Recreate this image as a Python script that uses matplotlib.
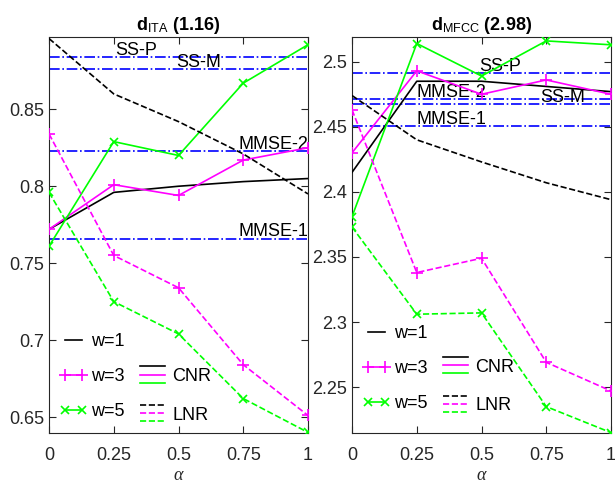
import matplotlib
matplotlib.use("Agg")
import matplotlib.pyplot as plt
from matplotlib.lines import Line2D
from matplotlib.legend_handler import HandlerBase

plt.rcParams['font.family'] = ['Liberation Sans', 'DejaVu Sans']
plt.rcParams['mathtext.fontset'] = 'custom'
plt.rcParams['mathtext.rm'] = 'Liberation Sans'
plt.rcParams['mathtext.it'] = 'Liberation Serif:italic'
plt.rcParams['mathtext.bf'] = 'Liberation Sans:bold'

alpha = [0, 0.25, 0.5, 0.75, 1]

# d_ITA panel
ita_cnr_w1 = [0.772, 0.796, 0.800, 0.803, 0.805]
ita_cnr_w3 = [0.772, 0.801, 0.794, 0.817, 0.825]
ita_cnr_w5 = [0.761, 0.829, 0.820, 0.867, 0.892]
ita_lnr_w1 = [0.896, 0.860, 0.842, 0.821, 0.795]
ita_lnr_w3 = [0.834, 0.755, 0.734, 0.684, 0.651]
ita_lnr_w5 = [0.796, 0.725, 0.704, 0.662, 0.640]
ita_refs = {'SS-P': 0.884, 'SS-M': 0.876, 'MMSE-2': 0.823, 'MMSE-1': 0.766}
ita_ref_x = {'SS-P': 0.255, 'SS-M': 0.49, 'MMSE-2': 0.73, 'MMSE-1': 0.73}

# d_MFCC panel
mf_cnr_w1 = [2.415, 2.485, 2.485, 2.481, 2.477]
mf_cnr_w3 = [2.430, 2.493, 2.475, 2.486, 2.475]
mf_cnr_w5 = [2.381, 2.514, 2.489, 2.516, 2.513]
mf_lnr_w1 = [2.474, 2.440, 2.423, 2.407, 2.394]
mf_lnr_w3 = [2.463, 2.338, 2.349, 2.269, 2.247]
mf_lnr_w5 = [2.373, 2.306, 2.307, 2.235, 2.215]
mf_refs = {'SS-P': 2.4915, 'MMSE-2': 2.4715, 'SS-M': 2.4677, 'MMSE-1': 2.4508}
mf_ref_x = {'SS-P': 0.49, 'MMSE-2': 0.25, 'SS-M': 0.726, 'MMSE-1': 0.25}

GREEN = '#00ff00'
MAG = '#ff00ff'
GRAY = '#262626'
FS = 13
LW = 1.2


class StackHandler(HandlerBase):
    def __init__(self, ls):
        super().__init__()
        self.ls = ls

    def create_artists(self, legend, orig_handle, xdescent, ydescent,
                       width, height, fontsize, trans):
        arts = []
        for i, c in enumerate(['k', MAG, GREEN]):
            y = -ydescent + height * (1 - i / 2)
            arts.append(Line2D([-xdescent, -xdescent + width], [y, y],
                               color=c, ls=self.ls, lw=LW, transform=trans))
        return arts


fig = plt.figure(figsize=(6.15, 4.83), dpi=100)
ax1 = fig.add_axes([0.0797, 0.1035, 0.4211, 0.8199])
ax2 = fig.add_axes([0.5724, 0.1035, 0.4211, 0.8199])

panels = [
    (ax1, ita_cnr_w1, ita_cnr_w3, ita_cnr_w5, ita_lnr_w1, ita_lnr_w3, ita_lnr_w5,
     ita_refs, ita_ref_x, (0.6396, 0.897), [0.65, 0.7, 0.75, 0.8, 0.85],
     r'd$_{\mathrm{ITA}}$ (1.16)', 0.142, 0.096),
    (ax2, mf_cnr_w1, mf_cnr_w3, mf_cnr_w5, mf_lnr_w1, mf_lnr_w3, mf_lnr_w5,
     mf_refs, mf_ref_x, (2.2147, 2.519), [2.25, 2.3, 2.35, 2.4, 2.45, 2.5],
     r'd$_{\mathrm{MFCC}}$ (2.98)', 0.163, 0.119),
]

for (ax, c1, c3, c5, l1, l3, l5, refs, refx, ylim, yticks, title, ly1, ly2) in panels:
    for name, val in refs.items():
        ax.axhline(val, color='b', ls='-.', lw=LW, zorder=1)
        ax.annotate(name, (refx[name], val), xytext=(0, 1.5), textcoords='offset points',
                    va='baseline', ha='left', fontsize=FS, color='k', zorder=2)
    h1, = ax.plot(alpha, c1, color='k', lw=LW, zorder=3)
    h3, = ax.plot(alpha, c3, color=MAG, lw=LW, marker='+', ms=8, mew=1.2, zorder=3)
    h5, = ax.plot(alpha, c5, color=GREEN, lw=LW, marker='x', ms=6, mew=1.2, zorder=3)
    ax.plot(alpha, l1, color='k', lw=LW, ls='--', zorder=3)
    ax.plot(alpha, l3, color=MAG, lw=LW, ls='--', marker='+', ms=8, mew=1.2, zorder=3)
    ax.plot(alpha, l5, color=GREEN, lw=LW, ls='--', marker='x', ms=6, mew=1.2, zorder=3)

    ax.set_xlim(0, 1)
    ax.set_ylim(*ylim)
    ax.set_xticks(alpha)
    ax.set_xticklabels(['0', '0.25', '0.5', '0.75', '1'])
    ax.set_yticks(yticks)
    ax.set_yticklabels([f'{v:g}' for v in yticks])
    ax.tick_params(direction='in', top=True, right=True, labelsize=FS,
                   colors=GRAY, length=5, width=0.8)
    ax.tick_params(axis='x', pad=10)
    ax.tick_params(axis='y', pad=3.5)
    for s in ax.spines.values():
        s.set_color(GRAY)
        s.set_linewidth(0.8)
    ax.set_xlabel(r'$\alpha$', fontsize=FS, color=GRAY, labelpad=2)
    ax.set_title(title, fontsize=FS, fontweight='bold', pad=5)

    leg1 = ax.legend([h1, h3, h5], ['w=1', 'w=3', 'w=5'], loc='center left',
                     bbox_to_anchor=(0.042, ly1), frameon=False, fontsize=FS,
                     numpoints=2, handlelength=1.55, handletextpad=0.2,
                     labelspacing=1.0, borderpad=0, borderaxespad=0)
    ax.add_artist(leg1)
    dc = Line2D([], [])
    dl = Line2D([], [])
    ax.legend([dc, dl], ['CNR', 'LNR'], loc='center left',
              bbox_to_anchor=(0.351, ly2), frameon=False, fontsize=FS,
              handler_map={dc: StackHandler('-'), dl: StackHandler('--')},
              handlelength=1.4, handleheight=1.0, handletextpad=0.4,
              labelspacing=1.14, borderpad=0, borderaxespad=0)

fig.savefig('out.png', dpi=100)
